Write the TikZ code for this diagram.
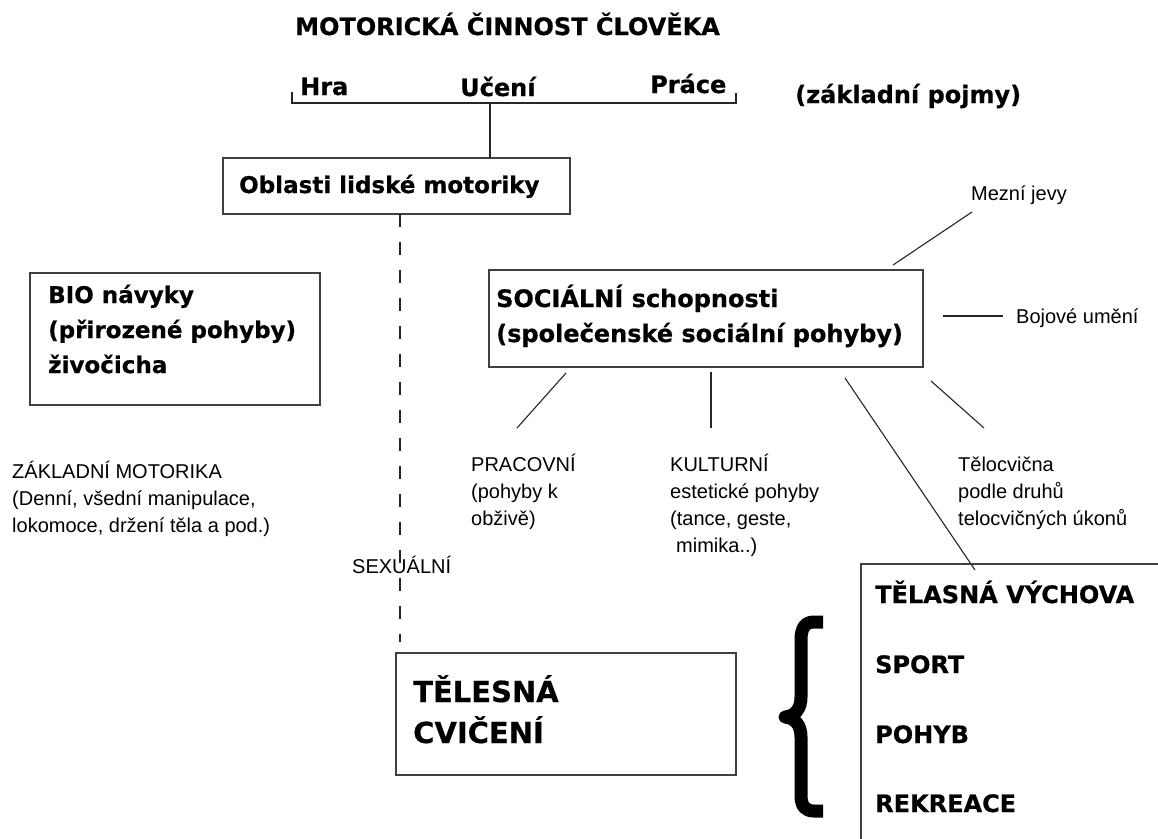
\documentclass[tikz,border=0pt]{standalone}
\usepackage{fontspec}
\setmainfont{Liberation Sans}
\newfontfamily\djs{DejaVu Sans}[BoldFeatures={FakeBold=0.6}]
\begin{document}
\begin{tikzpicture}[x=1pt,y=-1pt,
  box/.style={draw=black!75,line width=1.3pt,inner sep=0pt,outer sep=0pt},
  conn/.style={draw=black!85,line width=1.1pt},
  dashline/.style={draw=black!85,line width=1.2pt,dash pattern=on 13pt off 15pt},
  btxt/.style={font=\djs\bfseries\fontsize{23}{28}\selectfont,inner sep=0pt,anchor=base west},
  bbtxt/.style={font=\djs\bfseries\fontsize{24}{28}\selectfont,inner sep=0pt,anchor=base west},
  htxt/.style={font=\djs\bfseries\fontsize{29}{34}\selectfont,inner sep=0pt,anchor=base west},
  ntxt/.style={font=\fontsize{20}{24}\selectfont,inner sep=0pt,anchor=base west},
  bracestyle/.style={draw=black,line width=13pt,line join=round}
]
\useasboundingbox (0,0) rectangle (1158,838);
\fill[white] (0,0) rectangle (1158,838);
\clip (0,0) rectangle (1158,838);

% title and top bracket
\node[bbtxt] (title) at (295,35) {MOTORICKÁ ČINNOST ČLOVĚKA};
\node[bbtxt] (hra) at (300,95) {Hra};
\node[bbtxt] (uceni) at (460,96) {Učení};
\node[bbtxt] (prace) at (650,93) {Práce};
\node[bbtxt] (pojmy) at (795,103) {(základní pojmy)};
\coordinate (bl) at (292,92);
\coordinate (br) at (736,93);
\coordinate (bb) at (490,103);
\draw[conn] (bl) |- (bb) -| (br);

% Oblasti box
\node[box,minimum width=347pt,minimum height=56pt] (oblbox) at (396.5,186) {};
\node[btxt] (obl) at (239,193) {Oblasti lidské motoriky};
\draw[conn] (bb) -- (bb |- oblbox.north);

% dashed line
\coordinate (dtop) at (400,214);
\coordinate (dbot) at (400,642);
\draw[dashline] (dtop) -- (dbot);

% BIO box
\node[box,minimum width=290pt,minimum height=132pt] (biobox) at (175,339) {};
\node[btxt] (bio1) at (48,303) {BIO návyky};
\node[btxt] (bio2) at (48,338) {(přirozené pohyby)};
\node[btxt] (bio3) at (48,373) {živočicha};

% SOCIALNI box
\node[box,minimum width=434pt,minimum height=97pt] (socbox) at (706,318.5) {};
\node[bbtxt] (soc1) at (496,307) {SOCIÁLNÍ schopnosti};
\node[bbtxt] (soc2) at (496,342) {(společenské sociální pohyby)};

% Mezni jevy
\node[ntxt] (mezni) at (971,200) {Mezní jevy};
\coordinate (mj1) at (893,265);
\coordinate (mj2) at (972,212);
\draw[conn] (mj1) -- (mj2);

% Bojove umeni
\node[ntxt] (boj) at (1016,323) {Bojové umění};
\coordinate (bj1) at (943,316);
\coordinate (bj2) at (1003,316);
\draw[conn] (bj1) -- (bj2);

% lines below
\coordinate (p1) at (566,373); \coordinate (p2) at (517,428);
\coordinate (k1) at (711,372); \coordinate (k2) at (711,428);
\coordinate (t1) at (931,381); \coordinate (t2) at (984,428);
\coordinate (l1) at (845,378); \coordinate (l2) at (975,570);
\draw[conn] (p1) -- (p2);
\draw[conn] (k1) -- (k2);
\draw[conn] (t1) -- (t2);
\draw[conn] (l1) -- (l2);

% labels
\node[ntxt] (prac1) at (471,471) {PRACOVNÍ};
\node[ntxt] (prac2) at (471,498) {(pohyby k};
\node[ntxt] (prac3) at (471,525) {obživě)};

\node[ntxt] (kul1) at (670,471) {KULTURNÍ};
\node[ntxt] (kul2) at (670,498) {estetické pohyby};
\node[ntxt] (kul3) at (670,525) {(tance, geste,};
\node[ntxt] (kul4) at (676,552) {mimika..)};

\node[ntxt] (tel1) at (958,471) {Tělocvična};
\node[ntxt] (tel2) at (958,498) {podle druhů};
\node[ntxt] (tel3) at (958,525) {telocvičných úkonů};

\node[ntxt] (zak1) at (12,478) {ZÁKLADNÍ MOTORIKA};
\node[ntxt] (zak2) at (12,505) {(Denní, všední manipulace,};
\node[ntxt] (zak3) at (12,532) {lokomoce, držení těla a pod.)};

\node[ntxt] (sex) at (352,573) {SEXUÁLNÍ};

% TELESNA CVICENI box
\node[box,minimum width=340pt,minimum height=122pt] (tcbox) at (566,714) {};
\node[htxt] (tc1) at (413,702) {TĚLESNÁ};
\node[htxt] (tc2) at (413,743) {CVIČENÍ};

% brace
\draw[bracestyle] (823,622) -- (814,622) .. controls (805,622) and (801,628) .. (801,640)
  -- (801,697) .. controls (801,709) and (795,716) .. (785,717)
  .. controls (795,718) and (801,725) .. (801,737)
  -- (801,795) .. controls (801,806) and (805,811) .. (814,811) -- (823,811);

% right box
\node[box,minimum width=330pt,minimum height=310pt,anchor=north west] (tvbox) at (861,564) {};
\node[bbtxt] (tv1) at (875,603) {TĚLASNÁ VÝCHOVA};
\node[bbtxt] (tv2) at (875,673) {SPORT};
\node[bbtxt] (tv3) at (875,743) {POHYB};
\node[bbtxt] (tv4) at (875,812) {REKREACE};
\end{tikzpicture}
\end{document}
